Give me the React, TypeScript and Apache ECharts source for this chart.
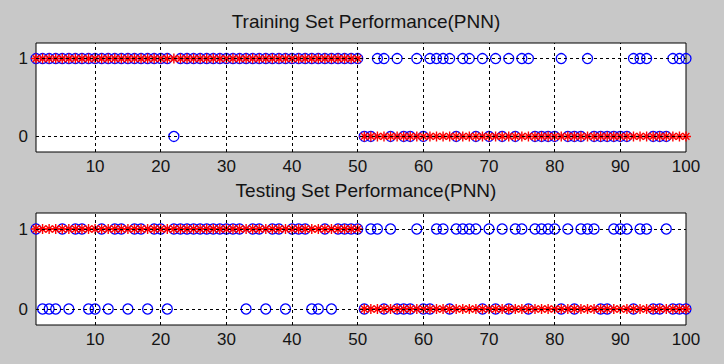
import React, { useEffect, useRef } from "react";
import * as echarts from "echarts";

// Sample index (x axis)
const sampleIndex: number[] = Array.from({ length: 100 }, (_, i) => i + 1);

// Actual class labels (red asterisks)
const trainActual: number[] = [
  1, 1, 1, 1, 1, 1, 1, 1, 1, 1,
  1, 1, 1, 1, 1, 1, 1, 1, 1, 1,
  1, 1, 1, 1, 1, 1, 1, 1, 1, 1,
  1, 1, 1, 1, 1, 1, 1, 1, 1, 1,
  1, 1, 1, 1, 1, 1, 1, 1, 1, 1,
  0, 0, 0, 0, 0, 0, 0, 0, 0, 0,
  0, 0, 0, 0, 0, 0, 0, 0, 0, 0,
  0, 0, 0, 0, 0, 0, 0, 0, 0, 0,
  0, 0, 0, 0, 0, 0, 0, 0, 0, 0,
  0, 0, 0, 0, 0, 0, 0, 0, 0, 0,
];
const testActual: number[] = [
  1, 1, 1, 1, 1, 1, 1, 1, 1, 1,
  1, 1, 1, 1, 1, 1, 1, 1, 1, 1,
  1, 1, 1, 1, 1, 1, 1, 1, 1, 1,
  1, 1, 1, 1, 1, 1, 1, 1, 1, 1,
  1, 1, 1, 1, 1, 1, 1, 1, 1, 1,
  0, 0, 0, 0, 0, 0, 0, 0, 0, 0,
  0, 0, 0, 0, 0, 0, 0, 0, 0, 0,
  0, 0, 0, 0, 0, 0, 0, 0, 0, 0,
  0, 0, 0, 0, 0, 0, 0, 0, 0, 0,
  0, 0, 0, 0, 0, 0, 0, 0, 0, 0,
];

// Predicted class labels (blue circles)
const trainPredicted: number[] = [
  1, 1, 1, 1, 1, 1, 1, 1, 1, 1,
  1, 1, 1, 1, 1, 1, 1, 1, 1, 1,
  1, 0, 1, 1, 1, 1, 1, 1, 1, 1,
  1, 1, 1, 1, 1, 1, 1, 1, 1, 1,
  1, 1, 1, 1, 1, 1, 1, 1, 1, 1,
  0, 0, 1, 1, 0, 1, 0, 0, 1, 0,
  1, 1, 1, 1, 0, 1, 1, 0, 1, 0,
  1, 0, 1, 0, 1, 1, 0, 0, 0, 0,
  1, 0, 0, 0, 1, 0, 0, 0, 0, 0,
  0, 1, 1, 1, 0, 0, 0, 1, 1, 1,
];
const testPredicted: number[] = [
  1, 0, 0, 0, 1, 0, 1, 1, 0, 0,
  1, 0, 1, 1, 0, 1, 1, 0, 1, 1,
  0, 1, 1, 1, 1, 1, 1, 1, 1, 1,
  1, 1, 0, 1, 1, 0, 1, 1, 0, 1,
  1, 1, 0, 0, 1, 0, 1, 1, 1, 1,
  0, 1, 1, 0, 1, 0, 0, 0, 1, 0,
  0, 1, 1, 0, 1, 1, 1, 1, 0, 1,
  0, 1, 0, 1, 1, 0, 1, 1, 1, 1,
  0, 1, 0, 1, 1, 1, 0, 0, 1, 1,
  1, 0, 1, 1, 0, 0, 1, 0, 0, 0,
];

const titles: string[] = ["Training Set Performance(PNN)", "Testing Set Performance(PNN)"];
const xTicks: number[] = [10, 20, 30, 40, 50, 60, 70, 80, 90, 100];
const xGridLines: number[] = [10, 20, 30, 40, 50, 60, 70, 80, 90];
const yTicks: number[] = [0, 1];

const FONT = "'Liberation Sans', Arial, Helvetica, sans-serif";
const TEXT = "#141414";
const ASTERISK = "path://M5 0 L5 10 M0 5 L10 5 M1.6 1.6 L8.4 8.4 M1.6 8.4 L8.4 1.6";

export default function App() {
  const ref = useRef<HTMLDivElement>(null);

  useEffect(() => {
    if (!ref.current) return;
    const chart = echarts.init(ref.current, undefined, { renderer: "svg" });

    const grids = [
      { left: 36, width: 650, top: 43, height: 109 },
      { left: 36, width: 650, top: 213, height: 112 },
    ];
    const titleTops = [7, 176];
    const actualSets = [trainActual, testActual];
    const predictedSets = [trainPredicted, testPredicted];

    const series: any[] = [];
    [0, 1].forEach((g) => {
      series.push({
        type: "scatter",
        xAxisIndex: g,
        yAxisIndex: g,
        data: [],
        z: 1,
        silent: true,
        markLine: {
          silent: true,
          symbol: ["none", "none"],
          label: { show: false },
          lineStyle: { type: [3, 3], color: "#000", width: 1 },
          data: [
            ...xGridLines.map((v) => ({ xAxis: v })),
            ...yTicks.map((v) => ({ yAxis: v })),
          ],
        },
      });
      series.push({
        type: "scatter",
        name: "predicted",
        xAxisIndex: g,
        yAxisIndex: g,
        z: 2,
        symbol: "circle",
        symbolSize: 10,
        itemStyle: { color: "rgba(0,0,0,0)", borderColor: "#0000ff", borderWidth: 1.3, opacity: 1 },
        data: sampleIndex.map((x, i) => [x, predictedSets[g][i]]),
      });
      series.push({
        type: "scatter",
        name: "actual",
        xAxisIndex: g,
        yAxisIndex: g,
        z: 3,
        symbol: ASTERISK,
        symbolSize: 10,
        itemStyle: { color: "rgba(0,0,0,0)", borderColor: "#ff0000", borderWidth: 1.4, opacity: 1 },
        data: sampleIndex.map((x, i) => [x, actualSets[g][i]]),
      });
    });

    chart.setOption({
      animation: false,
      backgroundColor: "#c8c8c8",
      title: titles.map((t, i) => ({
        text: t,
        left: 361,
        textAlign: "center",
        top: titleTops[i],
        textStyle: { fontFamily: FONT, fontSize: 19, fontWeight: "normal", color: TEXT },
      })),
      grid: grids.map((g) => ({
        ...g,
        show: true,
        backgroundColor: "#ffffff",
        borderColor: "#000000",
        borderWidth: 1,
      })),
      xAxis: [0, 1].map((g) => ({
        gridIndex: g,
        type: "value",
        min: 1,
        max: 100,
        axisLine: { show: false },
        axisTick: { show: false },
        splitLine: { show: false },
        axisLabel: {
          customValues: xTicks,
          margin: 6,
          fontFamily: FONT,
          fontSize: 17,
          color: TEXT,
        },
      })),
      yAxis: [0, 1].map((g) => ({
        gridIndex: g,
        type: "value",
        min: -0.2,
        max: 1.2,
        axisLine: { show: false },
        axisTick: { show: false },
        splitLine: { show: false },
        axisLabel: {
          customValues: yTicks,
          margin: 8,
          fontFamily: FONT,
          fontSize: 17,
          color: TEXT,
        },
      })),
      series,
    });

    return () => chart.dispose();
  }, []);

  return (
    <div
      ref={ref}
      style={{ position: "fixed", left: 0, top: 0, width: 724, height: 364 }}
    />
  );
}
